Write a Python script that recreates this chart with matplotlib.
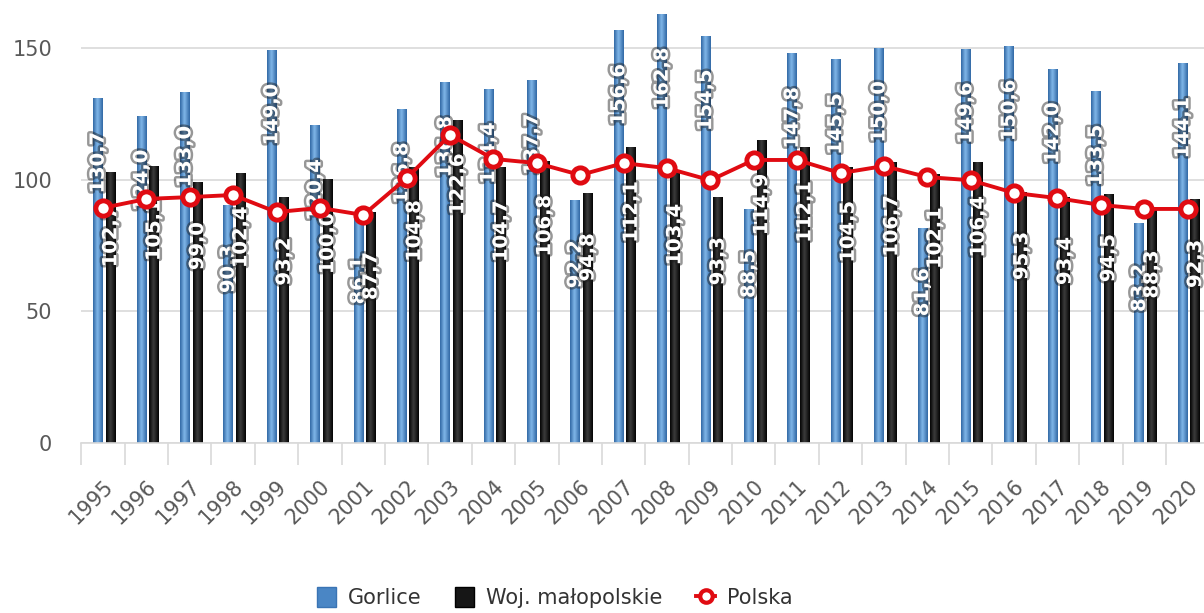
import numpy as np
import matplotlib
matplotlib.use('Agg')
import matplotlib.pyplot as plt
import matplotlib.patheffects as pe
from matplotlib.patches import Patch
from matplotlib.lines import Line2D
from matplotlib.colors import LinearSegmentedColormap

years = ['1995', '1996', '1997', '1998', '1999', '2000', '2001', '2002', '2003',
         '2004', '2005', '2006', '2007', '2008', '2009', '2010', '2011', '2012',
         '2013', '2014', '2015', '2016', '2017', '2018', '2019', '2020']
gorlice = [130.7, 124.0, 133.0, 90.3, 149.0, 120.4, 86.1, 126.8, 136.8, 134.4,
           137.7, 92.2, 156.6, 162.8, 154.5, 88.5, 147.8, 145.5, 150.0, 81.6,
           149.6, 150.6, 142.0, 133.5, 83.2, 144.1]
malopolska = [102.7, 105.1, 99.0, 102.4, 93.2, 100.0, 87.7, 104.8, 122.6, 104.7,
              106.8, 94.8, 112.1, 103.4, 93.3, 114.9, 112.1, 104.5, 106.7, 102.1,
              106.4, 95.3, 93.4, 94.5, 88.3, 92.3]
polska = [89.3, 92.7, 93.4, 94.2, 87.7, 89.3, 86.6, 100.6, 117.0, 107.9,
          106.3, 101.8, 106.3, 104.4, 99.8, 107.5, 107.5, 102.5, 105.2, 101.0,
          99.8, 95.0, 93.0, 90.4, 88.9, 88.9]

RED = '#e00b12'
GREY_TXT = '#595959'
GRID = '#d9d9d9'

fig = plt.figure(figsize=(12.04, 6.13), dpi=100)
ax = fig.add_axes([0.0675, 0.2773, 0.9369, 0.7216])

x = np.arange(len(years))
w = 0.23
bars_g = ax.bar(x - 0.11, gorlice, w, color='#4a86c5', zorder=2)
bars_m = ax.bar(x + 0.18, malopolska, w, color='#111111', zorder=2)


def shade(bars, edge, mid):
    # cylinder-like horizontal gradient inside each bar
    cmap = LinearSegmentedColormap.from_list('bar', [(0, edge), (0.45, mid), (1, edge)])
    grad = np.linspace(0, 1, 64)[None, :]
    for b in bars:
        x0, bw, h = b.get_x(), b.get_width(), b.get_height()
        ax.imshow(grad, extent=(x0, x0 + bw, 0, h), cmap=cmap, aspect='auto',
                  interpolation='bicubic', zorder=2)
        b.set_visible(False)


shade(bars_g, '#2f66a3', '#82b8ea')
shade(bars_m, '#020202', '#3d3d3d')

glow = [pe.withStroke(linewidth=3.5, foreground=(0.1, 0.1, 0.1, 0.45))]
for bars, vals in ((bars_g, gorlice), (bars_m, malopolska)):
    for b, v in zip(bars, vals):
        ax.annotate(f'{v:.1f}'.replace('.', ','),
                    xy=(b.get_x() + b.get_width() / 2, v),
                    xytext=(0, -46), textcoords='offset points',
                    rotation=90, ha='center', va='center',
                    color='white', fontsize=14, fontweight='bold',
                    path_effects=glow, zorder=4)

ax.plot(x, polska, color=RED, lw=2.8, marker='o', ms=11, mew=3.5,
        mfc='white', mec=RED, zorder=5)

ax.set_xlim(-0.5, len(years) - 0.5)
ax.set_ylim(0, 168)

ax.set_yticks([0, 50, 100, 150])
ax.yaxis.grid(True, color=GRID, lw=1.2)
ax.set_axisbelow(True)
ax.tick_params(axis='y', length=0, pad=21, labelsize=15, labelcolor=GREY_TXT)

ax.set_xticks(x)
ax.set_xticklabels(years, rotation=45, ha='right', rotation_mode='anchor')
ax.set_xticks(np.arange(len(years) + 1) - 0.5, minor=True)
ax.tick_params(axis='x', which='major', length=0, pad=24, labelsize=15,
               labelcolor=GREY_TXT)
ax.tick_params(axis='x', which='minor', length=16, width=1.2, color=GRID)

for s in ('top', 'right', 'left'):
    ax.spines[s].set_visible(False)
ax.spines['bottom'].set_color(GRID)
ax.spines['bottom'].set_linewidth(1.2)

handles = [Patch(facecolor='#4a86c5', edgecolor='#3a74b4'),
           Patch(facecolor='#161616', edgecolor='#000000'),
           Line2D([], [], color=RED, lw=2.8, marker='o', ms=9, mew=3,
                  mfc='white', mec=RED)]
fig.legend(handles, ['Gorlice', 'Woj. małopolskie', 'Polska'],
           loc='center', bbox_to_anchor=(0.461, 0.025), ncol=3, frameon=False,
           fontsize=15, labelcolor='#333333', handlelength=0.9,
           handleheight=1.1, handletextpad=0.6, columnspacing=1.6)

fig.savefig('out.png', dpi=100)
